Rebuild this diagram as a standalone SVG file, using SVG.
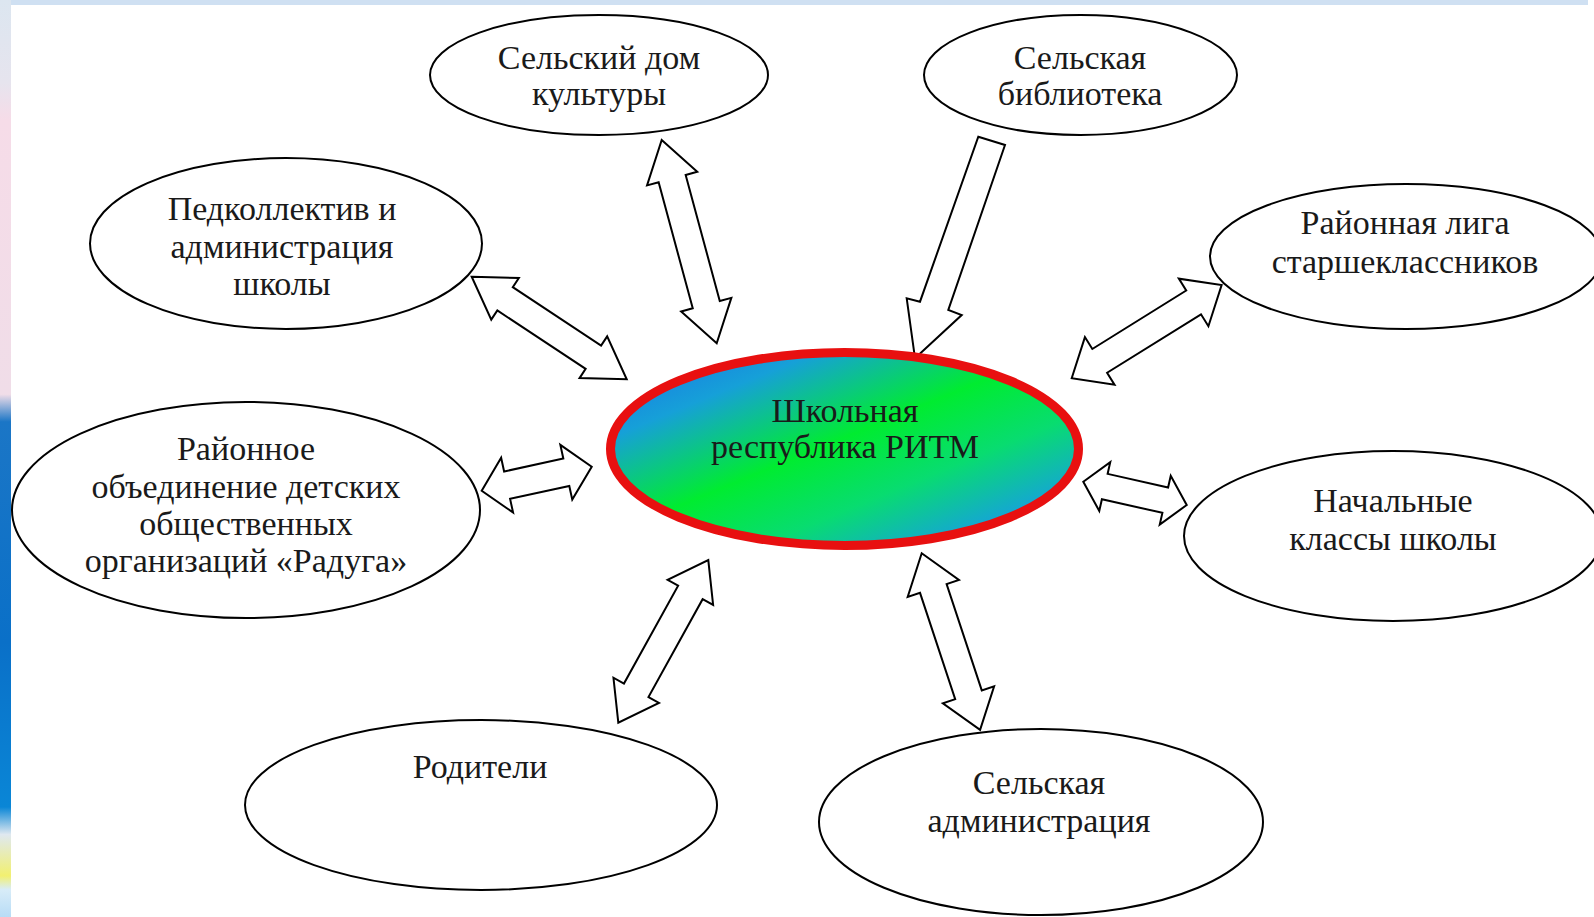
<svg xmlns="http://www.w3.org/2000/svg" width="1594" height="917" viewBox="0 0 1594 917">
<defs>
<linearGradient id="strip" x1="0" y1="0" x2="0" y2="1">
<stop offset="0" stop-color="#dce6f0"/>
<stop offset="0.09" stop-color="#e6e4ee"/>
<stop offset="0.13" stop-color="#f6dce8"/>
<stop offset="0.43" stop-color="#f0dde8"/>
<stop offset="0.46" stop-color="#1b76c6"/>
<stop offset="0.7" stop-color="#0a70c8"/>
<stop offset="0.88" stop-color="#0a86d6"/>
<stop offset="0.91" stop-color="#dfe8f0"/>
<stop offset="0.955" stop-color="#f2f070"/>
<stop offset="0.97" stop-color="#d8ecf8"/>
<stop offset="1" stop-color="#b8dcf6"/>
</linearGradient>
<linearGradient id="core" x1="0" y1="0" x2="1" y2="1">
<stop offset="0" stop-color="#1a6ee8"/>
<stop offset="0.22" stop-color="#16a0d8"/>
<stop offset="0.47" stop-color="#00ec30"/>
<stop offset="0.66" stop-color="#08dc70"/>
<stop offset="0.84" stop-color="#14a8d0"/>
<stop offset="1" stop-color="#1a72e8"/>
</linearGradient>
</defs>
<style>
.node{fill:#ffffff;stroke:#000000;stroke-width:2}
.arrow{fill:#ffffff;stroke:#000000;stroke-width:2;stroke-linejoin:miter}
.t{font-family:"Liberation Serif","Times New Roman",serif;font-size:34px;fill:#1a1a1a;text-anchor:middle}
</style>
<rect x="0" y="0" width="1594" height="917" fill="#ffffff"/>
<rect x="0" y="0" width="1588" height="5" fill="#cfe0f2"/>
<rect x="0" y="0" width="11" height="917" fill="url(#strip)"/>

<g id="connectors">
<polygon class="arrow" transform="translate(661.7,140) rotate(74.86)" points="0,0 40,-26 40,-14 170.6,-14 170.6,-26 210.6,0 170.6,26 170.6,14 40,14 40,26"/>
<polygon class="arrow" transform="translate(471.7,276.7) rotate(33.5)" points="0,0 40,-25 40,-14 145.9,-14 145.9,-25 185.9,0 145.9,25 145.9,14 40,14 40,25"/>
<polygon class="arrow" transform="translate(481.7,490.7) rotate(-12.3)" points="0,0 26,-28 26,-14 86.6,-14 86.6,-28 112.6,0 86.6,28 86.6,14 26,14 26,28"/>
<polygon class="arrow" points="978.3,136.7 1005,145 948.3,310 961.7,315 915,358.3 906.7,298.3 920,301.7"/>
<polygon class="arrow" transform="translate(1071.7,378.3) rotate(-31.9)" points="0,0 33,-28 33,-14 143.6,-14 143.6,-28 176.6,0 143.6,28 143.6,14 33,14 33,28"/>
<polygon class="arrow" transform="translate(1083.3,481.7) rotate(12.7)" points="0,0 22,-25 22,-13 84,-13 84,-25 106,0 84,25 84,13 22,13 22,25"/>
<polygon class="arrow" transform="translate(618.3,722.7) rotate(-61.05)" points="0,0 37,-26 37,-14 148.9,-14 148.9,-26 185.9,0 148.9,26 148.9,14 37,14 37,26"/>
<polygon class="arrow" transform="translate(921.7,553.3) rotate(71.7)" points="0,0 37,-27 37,-14 149,-14 149,-27 186,0 149,27 149,14 37,14 37,27"/>
</g>

<g id="center">
<ellipse cx="844.5" cy="449" rx="234" ry="96.5" fill="url(#core)" stroke="#e81010" stroke-width="9"/>
<text class="t" x="845" y="422">Школьная</text>
<text class="t" x="845" y="458">республика РИТМ</text>
</g>

<g id="dom-kultury">
<ellipse class="node" cx="599" cy="75" rx="169" ry="60"/>
<text class="t" x="599" y="69">Сельский дом</text>
<text class="t" x="599" y="105">культуры</text>
</g>

<g id="biblioteka">
<ellipse class="node" cx="1080.5" cy="75" rx="156.5" ry="60"/>
<text class="t" x="1080" y="69">Сельская</text>
<text class="t" x="1080" y="105">библиотека</text>
</g>

<g id="pedkollektiv">
<ellipse class="node" cx="286" cy="243.5" rx="196" ry="85.5"/>
<text class="t" x="282" y="220">Педколлектив и</text>
<text class="t" x="282" y="258">администрация</text>
<text class="t" x="282" y="295">школы</text>
</g>

<g id="liga">
<ellipse class="node" cx="1406" cy="256.5" rx="196" ry="72.5"/>
<text class="t" x="1405" y="234">Районная лига</text>
<text class="t" x="1405" y="273">старшеклассников</text>
</g>

<g id="raduga">
<ellipse class="node" cx="246" cy="510" rx="234" ry="108"/>
<text class="t" x="246" y="460">Районное</text>
<text class="t" x="246" y="498">объединение детских</text>
<text class="t" x="246" y="535">общественных</text>
<text class="t" x="246" y="572">организаций «Радуга»</text>
</g>

<g id="nachalnye">
<ellipse class="node" cx="1393" cy="536" rx="209" ry="85"/>
<text class="t" x="1393" y="512">Начальные</text>
<text class="t" x="1393" y="550">классы школы</text>
</g>

<g id="roditeli">
<ellipse class="node" cx="481" cy="805" rx="236" ry="85"/>
<text class="t" x="480" y="778">Родители</text>
</g>

<g id="administratsiya">
<ellipse class="node" cx="1041" cy="822" rx="222" ry="93"/>
<text class="t" x="1039" y="794">Сельская</text>
<text class="t" x="1039" y="832">администрация</text>
</g>
</svg>
